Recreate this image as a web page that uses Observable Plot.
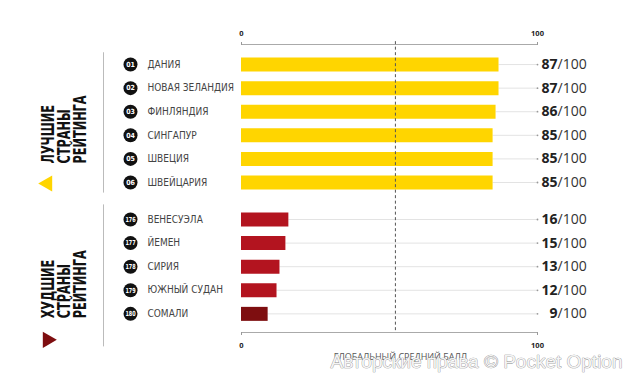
<!DOCTYPE html>
<html>
<head>
<meta charset="utf-8">
<script src="https://cdn.jsdelivr.net/npm/d3@7"></script>
<script src="https://cdn.jsdelivr.net/npm/@observablehq/plot@0.6"></script>
<style>
  html, body { margin: 0; padding: 0; background: #fff; }
  #chart svg { display: block; }
</style>
</head>
<body>
<div id="chart"></div>
<script>
// ---- data ----
const bestRanks = ["01", "02", "03", "04", "05", "06"];
const bestCountries = ["ДАНИЯ", "НОВАЯ ЗЕЛАНДИЯ", "ФИНЛЯНДИЯ", "СИНГАПУР", "ШВЕЦИЯ", "ШВЕЙЦАРИЯ"];
const bestScores = [87, 87, 86, 85, 85, 85];
const worstRanks = ["176", "177", "178", "179", "180"];
const worstCountries = ["ВЕНЕСУЭЛА", "ЙЕМЕН", "СИРИЯ", "ЮЖНЫЙ СУДАН", "СОМАЛИ"];
const worstScores = [16, 15, 13, 12, 9];
const globalAverage = 52;
const axisTicks = [0, 100];
const maxScore = 100;
const bestTitle = "ЛУЧШИЕ\nСТРАНЫ\nРЕЙТИНГА";
const worstTitle = "ХУДШИЕ\nСТРАНЫ\nРЕЙТИНГА";
const axisCaption = "ГЛОБАЛЬНЫЙ СРЕДНИЙ БАЛЛ";
const watermark = "Авторские права © Pocket Option";

// ---- layout (row positions) ----
const groupGap = 1.57;
const rows = [
  ...bestCountries.map((c, i) => ({group: "best", rank: bestRanks[i], country: c, score: bestScores[i], pos: i})),
  ...worstCountries.map((c, i) => ({group: "worst", rank: worstRanks[i], country: c, score: worstScores[i], pos: bestCountries.length - 1 + groupGap + i}))
];
const lastBest = bestCountries.length - 1;
const lastWorst = rows[rows.length - 1].pos;
const yMin = -0.85, yMax = lastWorst + 0.79;

const yellow = "#FFD500";
const red = "#B3141F";
const darkRed = "#7E0E10";
const barColor = d => d.group === "best" ? yellow : (d.rank === worstRanks[worstRanks.length - 1] ? darkRed : red);

const condensed = "'DejaVu Sans Condensed', 'Liberation Sans Narrow', sans-serif";

const chart = Plot.plot({
  width: 627,
  height: 373,
  marginTop: 44,
  marginBottom: 41,
  marginLeft: 0,
  marginRight: 0,
  x: {domain: [0, maxScore], range: [241, 537], axis: null},
  y: {domain: [yMin, yMax], reverse: true, axis: null},
  color: {type: "identity"},
  style: {fontFamily: "'Open Sans', sans-serif", background: "#fff"},
  marks: [
    // axis lines
    Plot.ruleY([yMin, yMax], {x1: 0, x2: maxScore, stroke: "#aaa", strokeWidth: 1}),
    Plot.axisX(axisTicks, {anchor: "top", label: null, tickSize: 3, tickPadding: 6, fontSize: 7.5, fontWeight: "bold", fill: "#222", stroke: "#999"}),
    Plot.axisX(axisTicks, {anchor: "bottom", label: null, tickSize: 3, tickPadding: 7, fontSize: 7.5, fontWeight: "bold", fill: "#222", stroke: "#999"}),
    // connector lines
    Plot.ruleY(rows, {y: "pos", x1: "score", x2: maxScore, stroke: "#e3e3e3", strokeWidth: 1}),
    Plot.dot(rows, {y: "pos", x: maxScore, r: 0.9, fill: "#999", stroke: null}),
    // bars
    Plot.ruleY(rows, {y: "pos", x1: 0, x2: "score", stroke: barColor, strokeWidth: 14}),
    // global average
    Plot.ruleX([globalAverage], {y1: yMin - 0.12, y2: yMax, stroke: "#555", strokeWidth: 1, strokeDasharray: "3,2.5"}),
    Plot.text([axisCaption], {x: globalAverage, y: yMax, dy: 25, dx: 5, fontSize: 9, fill: "#555", textAnchor: "middle"}),
    // score labels
    Plot.text(rows, {y: "pos", x: maxScore, dx: 20, text: d => String(d.score), textAnchor: "end", fontSize: 14, fontWeight: "bold", fill: "#222"}),
    Plot.text(rows, {y: "pos", x: maxScore, dx: 20, text: () => "/" + maxScore, textAnchor: "start", fontSize: 14, fill: "#333"}),
    // rank circles
    Plot.dot(rows, {y: "pos", frameAnchor: "left", dx: 130, r: 7, fill: "#111", stroke: null}),
    Plot.text(rows, {y: "pos", frameAnchor: "left", dx: 130, text: "rank", textAnchor: "middle", fill: "#fff", fontSize: 7, fontWeight: "bold", fontFamily: condensed}),
    // country names
    Plot.text(rows, {y: "pos", frameAnchor: "left", dx: 147, text: "country", textAnchor: "start", fill: "#444", fontSize: 10, fontFamily: condensed}),
    // separators
    Plot.ruleX([0], {dx: -138, y1: -0.5, y2: lastBest + 0.45, stroke: "#bbb", strokeWidth: 1}),
    Plot.ruleX([0], {dx: -138, y1: lastBest + 0.95, y2: lastWorst + 1.4, stroke: "#bbb", strokeWidth: 1}),
    // group titles
    Plot.text([bestTitle], {y: lastBest, dy: -19, frameAnchor: "left", dx: 64, rotate: -90, textAnchor: "start", fontSize: 17, fontWeight: "bold", lineHeight: 0.95, fill: "#111", fontFamily: condensed}),
    Plot.text([worstTitle], {y: lastWorst, dy: 4.5, frameAnchor: "left", dx: 64, rotate: -90, textAnchor: "start", fontSize: 17, fontWeight: "bold", lineHeight: 0.95, fill: "#111", fontFamily: condensed}),
    // triangles
    Plot.dot([0], {y: lastBest, dy: 1, frameAnchor: "left", dx: 47, symbol: "triangle", rotate: -90, r: 6, fill: yellow, stroke: null}),
    Plot.dot([0], {y: lastWorst, dy: 26, frameAnchor: "left", dx: 47, symbol: "triangle", rotate: 90, r: 6, fill: darkRed, stroke: null}),
    // watermark
    Plot.text([watermark], {frameAnchor: "bottom-right", dx: -5, dy: 29, lineAnchor: "middle", textAnchor: "end", fontSize: 19, fill: "#f4f4f4", stroke: "#8a8a8a", strokeWidth: 0.7, fontFamily: "'Liberation Sans', Arial, sans-serif"})
  ]
});
document.getElementById("chart").appendChild(chart);

// compress the rotated group titles along their reading direction (condensed look)
d3.select(chart).selectAll("text")
  .filter(function () { return this.textContent.includes("РЕЙТИНГА"); })
  .each(function () {
    const t = this.getAttribute("transform");
    if (t) this.setAttribute("transform", t + " scale(0.74,1)");
  });
// squeeze three-digit rank numbers so they fit inside their circles
d3.select(chart).selectAll("text")
  .filter(function () { return worstRanks.includes(this.textContent); })
  .each(function () {
    const t = this.getAttribute("transform");
    if (t) this.setAttribute("transform", t + " scale(0.78,1)");
  });
</script>
</body>
</html>
